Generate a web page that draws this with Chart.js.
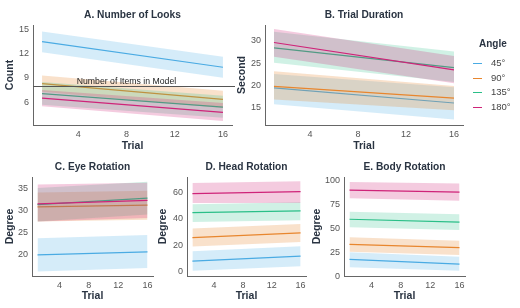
<!DOCTYPE html>
<html><head><meta charset="utf-8">
<script src="https://cdn.jsdelivr.net/npm/chart.js@4/dist/chart.umd.min.js"></script>
<style>
body{margin:0;background:#fff;}
#wrap{position:relative;width:520px;height:308px;overflow:hidden;font-family:"Liberation Sans",Arial,sans-serif;}
canvas{position:absolute;}
.lg{position:absolute;font-size:9.5px;color:#444;line-height:12px;}
.sw{position:absolute;width:9px;height:1px;}
</style>
</head><body>
<div id="wrap">
<canvas id="cA" width="240" height="152" style="left:0;top:0"></canvas>
<canvas id="cB" width="233" height="152" style="left:232px;top:0"></canvas>
<canvas id="cC" width="160" height="156" style="left:0;top:152px"></canvas>
<canvas id="cD" width="157" height="156" style="left:155px;top:152px"></canvas>
<canvas id="cE" width="160" height="156" style="left:310px;top:152px"></canvas>
</div>
<script>
// ---- data ----
const angles = ['45°', '90°', '135°', '180°'];
const colors = ['#4AABE3', '#E8862E', '#2BBF88', '#CF2479'];
const bandColors = ['rgba(74,171,227,0.23)', 'rgba(232,134,46,0.25)', 'rgba(43,191,136,0.22)', 'rgba(207,36,121,0.24)'];
const trials = [1, 16];
const trialTicks = [4, 8, 12, 16];
const itemsInModel = 8;

// A. Number of Looks (Count)
const looksFit   = [[13.45, 10.3], [8.3, 6.35], [7.05, 5.4], [6.5, 4.75]];
const looksUpper = [[14.7, 11.6], [9.3, 7.4], [8.5, 6.8], [7.5, 5.9]];
const looksLower = [[12.15, 9.0], [7.3, 5.3], [5.7, 4.1], [5.5, 3.7]];
const looksTicks = [6, 9, 12, 15];

// B. Trial Duration (Second)
const durFit   = [[19.5, 16.1], [19.8, 17.2], [28.4, 24.0], [29.6, 23.5]];
const durUpper = [[22.6, 19.6], [23.2, 19.9], [32.0, 27.6], [32.6, 26.6]];
const durLower = [[15.8, 12.4], [16.9, 14.5], [25.1, 20.8], [26.4, 20.5]];
const durTicks = [15, 20, 25, 30];

// C. Eye Rotation (Degree)
const eyeFit   = [[20.0, 20.7], [30.9, 31.3], [31.4, 32.9], [31.6, 32.4]];
const eyeUpper = [[23.8, 24.5], [34.2, 34.6], [35.2, 36.6], [36.0, 36.4]];
const eyeLower = [[16.2, 17.0], [27.6, 28.0], [27.6, 29.2], [27.6, 28.4]];
const eyeTicks = [20, 25, 30, 35];

// D. Head Rotation (Degree)
const headFit   = [[8.0, 11.7], [25.8, 29.3], [44.6, 46.0], [59.0, 60.5]];
const headUpper = [[15.5, 19.3], [32.6, 36.0], [51.0, 52.5], [67.0, 68.3]];
const headLower = [[0.6, 4.0], [19.0, 22.4], [37.6, 38.8], [52.0, 52.0]];
const headTicks = [0, 20, 40, 60];

// E. Body Rotation (Degree)
const bodyFit   = [[18.0, 13.2], [33.6, 30.2], [59.8, 56.7], [90.0, 88.0]];
const bodyUpper = [[25.4, 20.8], [41.0, 37.5], [67.7, 65.0], [98.5, 97.0]];
const bodyLower = [[10.0, 6.2], [26.0, 22.6], [51.5, 48.6], [81.7, 79.0]];
const bodyTicks = [0, 25, 50, 75, 100];

// ---- build ----
Chart.defaults.font.family = '"Liberation Sans", Arial, sans-serif';
const titleColor = '#2a3442';

function pts(arr) { return trials.map((t, k) => ({x: t, y: arr[k]})); }

function buildDatasets(fit, upper, lower) {
  const ds = [];
  angles.forEach((a, i) => {
    const ord = (angles.length - i) * 2;
    ds.push({label: a + ' upper', data: pts(upper[i]), fill: '+1', backgroundColor: bandColors[i],
             borderColor: 'rgba(0,0,0,0)', borderWidth: 0, pointRadius: 0, order: ord});
    ds.push({label: a + ' lower', data: pts(lower[i]), fill: false,
             borderColor: 'rgba(0,0,0,0)', borderWidth: 0, pointRadius: 0, order: ord});
    ds.push({label: a, data: pts(fit[i]), fill: false, borderColor: colors[i], borderWidth: 1.2,
             pointRadius: 0, order: ord - 1});
  });
  return ds;
}

const hlinePlugin = {
  id: 'hline',
  afterDatasetsDraw(chart) {
    const {ctx, chartArea, scales} = chart;
    const y = Math.round(scales.y.getPixelForValue(itemsInModel)) + 0.5;
    ctx.save();
    ctx.strokeStyle = '#555';
    ctx.lineWidth = 1;
    ctx.beginPath();
    ctx.moveTo(chartArea.left, y);
    ctx.lineTo(chartArea.right + 3, y);
    ctx.stroke();
    ctx.fillStyle = '#222';
    ctx.font = '8.7px "Liberation Sans", Arial, sans-serif';
    ctx.textAlign = 'center';
    ctx.textBaseline = 'alphabetic';
    ctx.fillText('Number of Items in Model', scales.x.getPixelForValue(8), y - 3);
    ctx.restore();
  }
};

function makePanel(id, o) {
  new Chart(document.getElementById(id), {
    type: 'line',
    data: {datasets: buildDatasets(o.fit, o.upper, o.lower)},
    plugins: o.plugins || [],
    options: {
      responsive: false, animation: false, devicePixelRatio: 1,
      layout: {padding: {left: 0, right: o.padR, top: 0, bottom: 0}, autoPadding: false},
      plugins: {
        legend: {display: false}, tooltip: {enabled: false},
        title: {display: true, text: o.title, fullSize: false, color: titleColor,
                font: {size: 10.2, weight: 'bold'}, padding: {top: 9, bottom: 3.76}}
      },
      scales: {
        x: {type: 'linear', min: 0.25, max: 16.75,
            afterBuildTicks: s => { s.ticks = trialTicks.map(v => ({value: v})); },
            afterFit: s => { s.height = o.xH; },
            grid: {display: false, drawTicks: false},
            border: {display: true, color: '#666', width: 1},
            ticks: {padding: 4, color: '#555', font: {size: 9}, maxRotation: 0, autoSkip: false},
            title: {display: true, text: 'Trial', color: titleColor, font: {size: 10.5, weight: 'bold'},
                    padding: {top: 0, bottom: o.xPB}}},
        y: {type: 'linear', min: o.min, max: o.max,
            afterBuildTicks: s => { s.ticks = o.ticks.map(v => ({value: v})); },
            afterFit: s => { s.width = o.yW; },
            grid: {display: false, drawTicks: false},
            border: {display: true, color: '#666', width: 1},
            ticks: {padding: 4, color: '#555', font: {size: 9}, autoSkip: false},
            title: {display: true, text: o.yTitle, color: titleColor, font: {size: 10.5, weight: 'bold'},
                    padding: {top: o.yPT, bottom: 0}}}
      }
    }
  });
}

makePanel('cA', {title: 'A. Number of Looks', fit: looksFit, upper: looksUpper, lower: looksLower,
  ticks: looksTicks, min: 3.2, max: 15.5, yTitle: 'Count', yW: 33, yPT: 3.7, padR: 8, xH: 27, xPB: 0,
  plugins: [hlinePlugin]});
makePanel('cB', {title: 'B. Trial Duration', fit: durFit, upper: durUpper, lower: durLower,
  ticks: durTicks, min: 11.2, max: 33.5, yTitle: 'Second', yW: 33, yPT: 3.7, padR: 2, xH: 27, xPB: 0});
makePanel('cC', {title: 'C. Eye Rotation', fit: eyeFit, upper: eyeUpper, lower: eyeLower,
  ticks: eyeTicks, min: 15.2, max: 37.7, yTitle: 'Degree', yW: 32, yPT: 3.7, padR: 7, xH: 32, xPB: 5.7});
makePanel('cD', {title: 'D. Head Rotation', fit: headFit, upper: headUpper, lower: headLower,
  ticks: headTicks, min: -3.3, max: 71.6, yTitle: 'Degree', yW: 32, yPT: 2, padR: 6, xH: 32, xPB: 5.7});
makePanel('cE', {title: 'E. Body Rotation', fit: bodyFit, upper: bodyUpper, lower: bodyLower,
  ticks: bodyTicks, min: 0.8, max: 103.7, yTitle: 'Degree', yW: 34, yPT: 0.4, padR: 5, xH: 32, xPB: 5.7});

// legend
const wrap = document.getElementById('wrap');
const lgTitle = document.createElement('div');
lgTitle.className = 'lg';
lgTitle.style.cssText = 'left:479px;top:38px;font-weight:bold;font-size:10px;color:' + titleColor;
lgTitle.textContent = 'Angle';
wrap.appendChild(lgTitle);
const legendY = [63, 78, 92, 107];
angles.forEach((a, i) => {
  const sw = document.createElement('div');
  sw.className = 'sw';
  sw.style.cssText = 'left:473px;top:' + legendY[i] + 'px;background:' + colors[i];
  wrap.appendChild(sw);
  const t = document.createElement('div');
  t.className = 'lg';
  t.style.cssText = 'left:491px;top:' + (legendY[i] - 6) + 'px';
  t.textContent = a;
  wrap.appendChild(t);
});
</script>
</body></html>
